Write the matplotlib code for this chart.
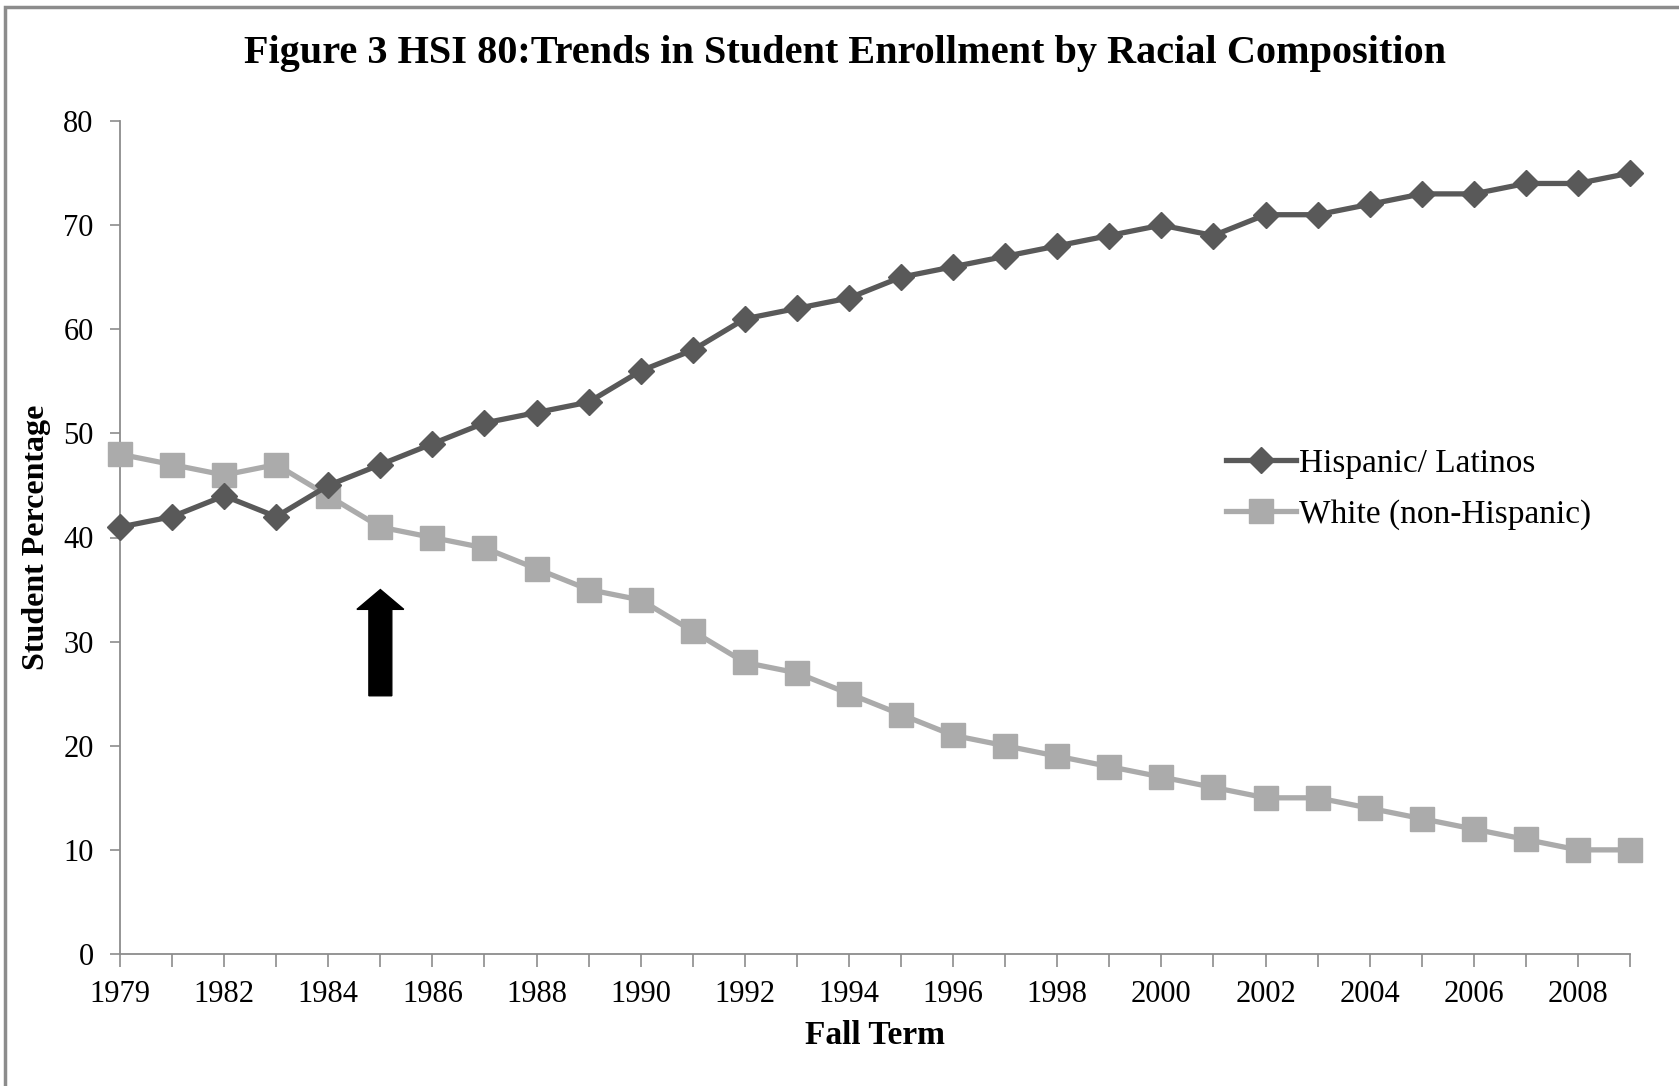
import numpy as np
import matplotlib.pyplot as plt
from matplotlib.patches import Rectangle, FancyArrow

# =========================
# DATA
# =========================
years = ["1979", "1980", "1982", "1983", "1984", "1985", "1986", "1987", "1988", "1989",
         "1990", "1991", "1992", "1993", "1994", "1995", "1996", "1997", "1998", "1999",
         "2000", "2001", "2002", "2003", "2004", "2005", "2006", "2007", "2008", "2009"]
hispanic = [41, 42, 44, 42, 45, 47, 49, 51, 52, 53, 56, 58, 61, 62, 63, 65, 66, 67, 68, 69,
            70, 69, 71, 71, 72, 73, 73, 74, 74, 75]
white = [48, 47, 46, 47, 44, 41, 40, 39, 37, 35, 34, 31, 28, 27, 25, 23, 21, 20, 19, 18,
         17, 16, 15, 15, 14, 13, 12, 11, 10, 10]
arrow_year = "1985"
arrow_from, arrow_to = 24.8, 35.0

title = "Figure 3 HSI 80:Trends in Student Enrollment by Racial Composition"
series_names = ["Hispanic/ Latinos", "White (non-Hispanic)"]

# =========================
# PLOT
# =========================
plt.rcParams["font.family"] = ["Liberation Serif", "DejaVu Serif"]

W, H = 1679, 1086
fig = plt.figure(figsize=(W / 100, H / 100), dpi=100)
ax = fig.add_axes([120 / W, 1 - 954 / H, (1630 - 120) / W, (954 - 121) / H])

x = np.arange(len(years))
ax.plot(x, hispanic, color="#595959", lw=3.8, marker="D", ms=13.5, mec="#595959",
        clip_on=False, zorder=4, label=series_names[0])
ax.plot(x, white, color="#ABABAB", lw=3.8, marker="s", ms=17, mec="#ABABAB",
        clip_on=False, zorder=3, label=series_names[1])

# arrow pointing at 1985
xa = years.index(arrow_year)
ax.add_patch(FancyArrow(xa, arrow_from, 0, arrow_to - arrow_from, width=0.44,
                        head_width=0.9, head_length=1.9, length_includes_head=True,
                        fc="black", ec="black", zorder=5))

ax.set_xlim(0, len(years) - 1)
ax.set_ylim(0, 80)
ax.set_yticks(range(0, 81, 10))
ax.set_xticks(x)
ax.set_xticklabels([y if i % 2 == 0 else "" for i, y in enumerate(years)])

for s in ["top", "right"]:
    ax.spines[s].set_visible(False)
for s in ["left", "bottom"]:
    ax.spines[s].set_color("#8C8C8C")
    ax.spines[s].set_linewidth(1.3)
ax.tick_params(axis="both", colors="#8C8C8C", labelcolor="black", labelsize=22,
               width=1.2, direction="out")
ax.tick_params(axis="x", length=9, pad=10)
ax.tick_params(axis="y", length=7, pad=12)

ax.set_xlabel("Fall Term", fontsize=24, fontweight="bold", labelpad=8)
ax.set_ylabel("Student Percentage", fontsize=23, fontweight="bold", labelpad=9)
fig.text(845 / W, 1 - 54 / H, title, fontsize=29, fontweight="bold",
         ha="center", va="center")

ax.legend(loc="center left", bbox_to_anchor=(1196 / W, 1 - 489 / H),
          bbox_transform=fig.transFigure, frameon=False, fontsize=24,
          handlelength=2.1, handletextpad=0.1, labelspacing=0.62)

# outer frame (left and top edges visible)
fig.patches.append(Rectangle((5 / W, -0.1), 1.2, 1 - 7 / H + 0.1, transform=fig.transFigure,
                             fill=False, ec="#8C8C8C", lw=2.5, figure=fig))

fig.savefig("out.png", dpi=100)
